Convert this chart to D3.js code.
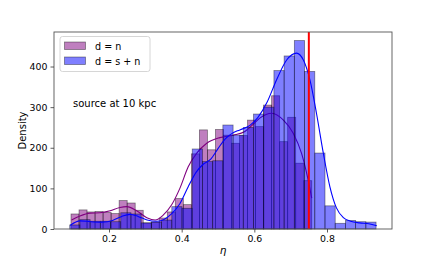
<!DOCTYPE html>
<html><head><meta charset="utf-8">
<script src="https://cdn.jsdelivr.net/npm/d3@7"></script>
<style>body{margin:0;background:#fff}text{font-family:"DejaVu Sans",sans-serif;fill:#000}</style>
</head><body>
<svg id="c" width="436" height="262"></svg>
<script>
// ---- data ----
const seriesNames = ["d = n", "d = s + n"];
const seriesColors = ["#800080", "#0000ff"];
const purpleRange = [0.0954, 0.758];   // bin range for d = n
const blueRange = [0.0918, 0.935];     // bin range for d = s + n
const purpleDensity = [37,47,42,43,41,38,70,64,46,15,17,27,42,75,60,185,244,195,245,231,211,230,268,252,305,328,215,275,162,119];
const blueDensity = [10,23,19,19,18,40,37,15,17,22,55,51,197,166,168,256,231,250,283,300,390,426,464,388,187,57,14,21,18,17];
const purpleKdeX = [0.097,0.12,0.148,0.175,0.203,0.23,0.249,0.276,0.304,0.327,0.349,0.372,0.395,0.418,0.441,0.469,0.505,0.542,0.574,0.597,0.615,0.648,0.68,0.707,0.73,0.748,0.758];
const purpleKdeY = [22,32,39,40,45,53,55,45,28,22,34,59,100,153,186,211,225,231,240,258,273,285,268,236,186,121,76];
const blueKdeX = [0.093,0.12,0.15,0.18,0.21,0.235,0.258,0.28,0.305,0.33,0.35,0.372,0.395,0.418,0.44,0.46,0.48,0.5,0.52,0.54,0.56,0.588,0.61,0.635,0.661,0.689,0.716,0.735,0.753,0.771,0.79,0.808,0.826,0.845,0.865,0.89,0.915,0.937];
const blueKdeY = [9,20,18,17,21,31,36,31,22,19,23,37,62,104,140,160,172,198,222,236,244,255,275,312,367,416,433,416,367,285,186,104,52,28,19,15,13,8];
const refLine = 0.75;
const xTicks = [0.2, 0.4, 0.6, 0.8];
const yTicks = [0, 100, 200, 300, 400];
const annotation = "source at 10 kpc";

// ---- layout ----
const L = 54, R = 392, T = 32, B = 229;
const svg = d3.select("#c");
const x = d3.scaleLinear().domain([0.0486, 0.9789]).range([L, R]);
const y = d3.scaleLinear().domain([0, 485]).range([B, T]);

function bins(range, vals) {
  const w = (range[1] - range[0]) / vals.length;
  return vals.map((v, i) => ({x0: range[0] + i * w, x1: range[0] + (i + 1) * w, v}));
}
function drawHist(data, color) {
  svg.append("g").selectAll("rect").data(data).join("rect")
    .attr("x", d => x(d.x0)).attr("width", d => x(d.x1) - x(d.x0))
    .attr("y", d => y(d.v)).attr("height", d => y(0) - y(d.v))
    .attr("fill", color).attr("fill-opacity", 0.5)
    .attr("stroke", "#000").attr("stroke-opacity", 0.45).attr("stroke-width", 0.8);
}
function drawKde(xs, ys, color) {
  const line = d3.line().x(d => x(d[0])).y(d => y(d[1])).curve(d3.curveMonotoneX);
  svg.append("path").datum(xs.map((v, i) => [v, ys[i]])).attr("d", line)
    .attr("fill", "none").attr("stroke", color).attr("stroke-width", 1.1);
}

drawHist(bins(purpleRange, purpleDensity), seriesColors[0]);
drawKde(purpleKdeX, purpleKdeY, seriesColors[0]);
drawHist(bins(blueRange, blueDensity), seriesColors[1]);
drawKde(blueKdeX, blueKdeY, seriesColors[1]);

// reference line
svg.append("line").attr("x1", x(refLine)).attr("x2", x(refLine)).attr("y1", T).attr("y2", B)
  .attr("stroke", "red").attr("stroke-width", 2);

// frame
svg.append("rect").attr("x", L).attr("y", T).attr("width", R - L).attr("height", B - T)
  .attr("fill", "none").attr("stroke", "#555").attr("stroke-width", 0.9);

// axes
const xa = svg.append("g").attr("transform", `translate(0,${B})`)
  .call(d3.axisBottom(x).tickValues(xTicks).tickFormat(d3.format(".1f")).tickSize(3.5).tickPadding(3));
const ya = svg.append("g").attr("transform", `translate(${L},0)`)
  .call(d3.axisLeft(y).tickValues(yTicks).tickSize(3.5).tickPadding(3));
[xa, ya].forEach(a => {
  a.select(".domain").remove();
  a.selectAll("line").attr("stroke", "#333").attr("stroke-width", 0.8);
  a.selectAll("text").style("font-family", "DejaVu Sans").style("font-size", "9.4px").attr("fill", "#000");
});

// labels
svg.append("text").attr("transform", `translate(26,${(T + B) / 2}) rotate(-90)`)
  .attr("text-anchor", "middle").style("font-size", "10px").text("Density");
svg.append("text").attr("x", (L + R) / 2).attr("y", 254).attr("text-anchor", "middle")
  .style("font-size", "10.5px").style("font-style", "italic").text("η");
svg.append("text").attr("x", 73).attr("y", 107).style("font-size", "10px").text(annotation);

// legend
const lg = svg.append("g");
lg.append("rect").attr("x", 60).attr("y", 36.5).attr("width", 90).attr("height", 35).attr("rx", 2.5)
  .attr("fill", "#fff").attr("fill-opacity", 0.8).attr("stroke", "#ccc").attr("stroke-width", 0.8);
seriesNames.forEach((n, i) => {
  lg.append("rect").attr("x", 64.5).attr("y", 42 + i * 15).attr("width", 21).attr("height", 7.5)
    .attr("fill", seriesColors[i]).attr("fill-opacity", 0.5)
    .attr("stroke", "#000").attr("stroke-opacity", 0.45).attr("stroke-width", 0.8);
  lg.append("text").attr("x", 95).attr("y", 49.5 + i * 15).style("font-size", "9.6px").text(n);
});
</script>
</body></html>
